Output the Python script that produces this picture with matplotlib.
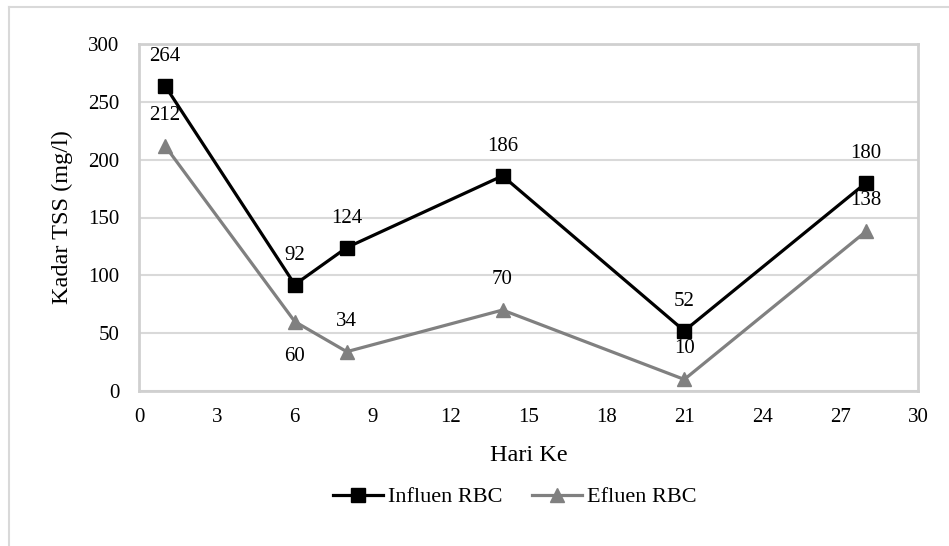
import matplotlib.pyplot as plt
from matplotlib.lines import Line2D

plt.rcParams["font.family"] = ["Liberation Serif", "DejaVu Serif"]

hari = [1, 6, 8, 14, 21, 28]
influen = [264, 92, 124, 186, 52, 180]
efluen = [212, 60, 34, 70, 10, 138]
# label offset direction for effluent values (+1 above, -1 below)
efluen_pos = [1, -1, 1, 1, 1, 1]

x_ticks = list(range(0, 31, 3))
y_ticks = list(range(0, 301, 50))

fig = plt.figure(figsize=(9.49, 5.46), dpi=100)
ax = fig.add_axes([139 / 949, 1 - 391 / 546, 779 / 949, 347 / 546])

# outer chart border (only top and left edges show in the crop)
top = 1 - 6.5 / 546
left = 8.5 / 949
fig.add_artist(Line2D([left, 1.0], [top, top], transform=fig.transFigure,
                      color="#d9d9d9", linewidth=1.5))
fig.add_artist(Line2D([left, left], [0.0, top], transform=fig.transFigure,
                      color="#d9d9d9", linewidth=1.5))

ax.plot(hari, influen, color="black", linewidth=2.3, marker="s",
        markersize=10.5, label="Influen RBC", zorder=3)
ax.plot(hari, efluen, color="#808080", linewidth=2.3, marker="^",
        markersize=10, label="Efluen RBC", zorder=3)

for x, y in zip(hari, influen):
    ax.annotate(str(y), (x, y), xytext=(0, 21), textcoords="offset points",
                ha="center", va="center", fontsize=15)
for x, y, d in zip(hari, efluen, efluen_pos):
    off = 22 if d > 0 else -25
    ax.annotate(str(y), (x, y), xytext=(0, off), textcoords="offset points",
                ha="center", va="center", fontsize=15)

ax.set_xlim(0, 30)
ax.set_ylim(0, 300)
ax.set_xticks(x_ticks)
ax.set_yticks(y_ticks)
ax.tick_params(length=0, labelsize=15)
ax.tick_params(axis="y", pad=14)
ax.tick_params(axis="x", pad=12)
ax.grid(axis="y", color="#d9d9d9", linewidth=1.5)
ax.set_axisbelow(True)
for s in ax.spines.values():
    s.set_color("#d0d0d0")
    s.set_linewidth(2)

ax.set_xlabel("Hari Ke", fontsize=17.5)
ax.set_ylabel("Kadar TSS (mg/l)", fontsize=17.5)
ax.xaxis.set_label_coords(0.5, -0.155)
ax.yaxis.set_label_coords(-0.085, 0.5)

fig.legend(loc="center", bbox_to_anchor=(515 / 949, 1 - 497 / 546), ncol=2,
           frameon=False, fontsize=16, handlelength=2.25, handletextpad=0.2,
           columnspacing=1.35)

fig.savefig("out.png", dpi=100)
